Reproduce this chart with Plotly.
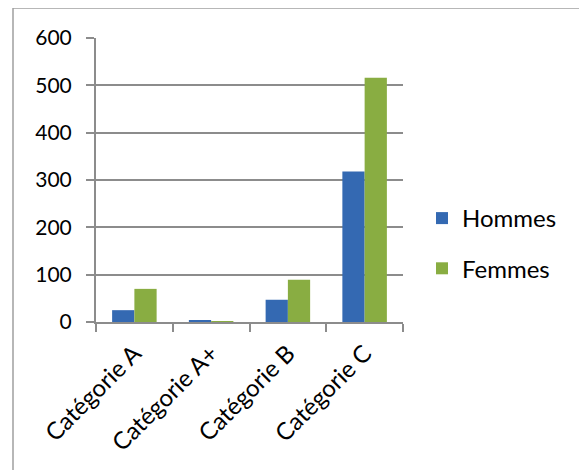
import plotly.graph_objects as go

categories = ["Catégorie A", "Catégorie A+", "Catégorie B", "Catégorie C"]
hommes = [25, 3, 47, 318]
femmes = [70, 1, 89, 516]
y_ticks = [0, 100, 200, 300, 400, 500, 600]

W, H = 587, 470
OFF = 8  # page body margin
L, R, T, B = 96 - OFF, 403 - OFF, 38 - OFF, 322 - OFF
FONT = "Lato"
AXIS = "#8c8c8c"

fig = go.Figure()
fig.add_trace(go.Bar(name="Hommes", x=categories, y=hommes,
                     marker=dict(color="#3469b2", line=dict(width=0)),
                     legendgroup="h"))
fig.add_trace(go.Bar(name="Femmes", x=categories, y=femmes,
                     marker=dict(color="#89ad42", line=dict(width=0)),
                     legendgroup="f"))

pw, ph = R - L, B - T
def px_x(x):
    return (x - OFF - L) / pw
def px_y(y):
    return (B - (y - OFF)) / ph

fig.update_layout(
    width=W, height=H,
    margin=dict(l=L, r=W - R, t=T, b=H - B, pad=0),
    paper_bgcolor="white", plot_bgcolor="white",
    barmode="group", bargap=0.42, bargroupgap=0,
    font=dict(family=FONT, size=21, color="black"),
    legend=dict(x=px_x(422), y=px_y(196), xanchor="left", yanchor="top",
                font=dict(family=FONT, size=24), tracegroupgap=16,
                bgcolor="rgba(0,0,0,0)"),
    showlegend=True,
    shapes=[dict(type="rect", xref="paper", yref="paper",
                 x0=px_x(13), x1=px_x(620),
                 y0=px_y(500), y1=px_y(8),
                 line=dict(color="#a0a0a0", width=1.5), layer="below")],
)
fig.update_xaxes(showline=True, linecolor=AXIS, linewidth=2,
                 ticks="outside", tickson="boundaries", ticklen=8,
                 tickcolor=AXIS, tickwidth=2, tickangle=-45,
                 ticklabelstandoff=6,
                 tickfont=dict(family=FONT, size=24), showgrid=False)
fig.update_yaxes(range=[0, 600], tickvals=y_ticks, showline=True,
                 linecolor=AXIS, linewidth=2, ticks="outside", ticklen=8,
                 tickcolor=AXIS, tickwidth=2, showgrid=True, gridcolor=AXIS,
                 gridwidth=2, zeroline=False, ticklabelstandoff=10,
                 tickfont=dict(family=FONT, size=21))

fig.write_html("out.html")
